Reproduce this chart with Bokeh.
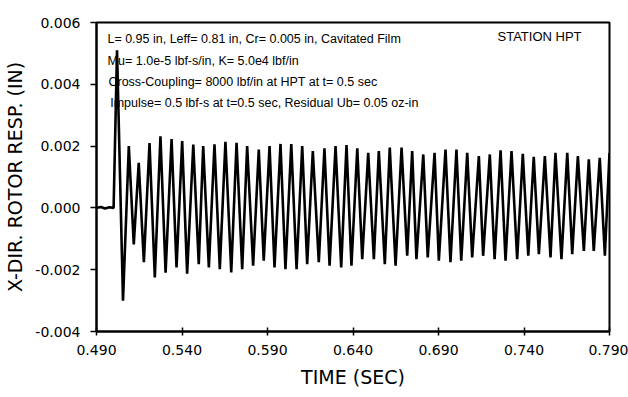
from bokeh.plotting import figure
from bokeh.models import FixedTicker, PrintfTickFormatter, Label, Range1d
from bokeh.embed import file_html
from bokeh.resources import INLINE

# ---------------- data ----------------
baseline_t = [0.4900, 0.4925, 0.4950, 0.4975, 0.5000]
baseline_v = [0.0, 0.00003, -0.00002, 0.00002, 0.0]

peak_t = [0.5020, 0.5089, 0.5147, 0.5210, 0.5274, 0.5339, 0.5401, 0.5466,
          0.5524, 0.5590, 0.5654, 0.5719, 0.5781, 0.5849, 0.5912, 0.5976,
          0.6039, 0.6103, 0.6165, 0.6233, 0.6298, 0.6362, 0.6425, 0.6489,
          0.6551, 0.6615, 0.6684, 0.6746, 0.6811, 0.6877, 0.6941, 0.7005,
          0.7068, 0.7136, 0.7200, 0.7263, 0.7327, 0.7393, 0.7457, 0.7522,
          0.7584, 0.7653, 0.7715, 0.7779, 0.7843, 0.7900]
peak_v = [0.0051, 0.0020, 0.00146, 0.0021, 0.00232, 0.00223, 0.00216, 0.00205,
          0.0020, 0.00206, 0.00214, 0.00211, 0.0020, 0.00189, 0.0020, 0.00207,
          0.00207, 0.0020, 0.00184, 0.00193, 0.0020, 0.00203, 0.00193, 0.00178,
          0.00184, 0.00195, 0.00195, 0.00184, 0.00173, 0.00178, 0.00189, 0.00189,
          0.00178, 0.00168, 0.00173, 0.00186, 0.00184, 0.00175, 0.00165, 0.00168,
          0.00178, 0.00178, 0.00168, 0.00157, 0.00162, 0.00178]

trough_t = [0.5055, 0.5118, 0.5177, 0.5241, 0.5304, 0.5368, 0.5430, 0.5498,
            0.5557, 0.5621, 0.5688, 0.5752, 0.5816, 0.5878, 0.5941, 0.6005,
            0.6070, 0.6132, 0.6200, 0.6263, 0.6331, 0.6391, 0.6454, 0.6522,
            0.6586, 0.6649, 0.6717, 0.6771, 0.6837, 0.6902, 0.6970, 0.7033,
            0.7097, 0.7161, 0.7228, 0.7292, 0.7360, 0.7425, 0.7487, 0.7555,
            0.7619, 0.7682, 0.7750, 0.7808, 0.7873]
trough_v = [-0.0030, -0.00118, -0.00176, -0.00225, -0.0021, -0.00193, -0.00213, -0.00182,
            -0.00193, -0.00198, -0.00209, -0.00198, -0.00187, -0.00171, -0.00193, -0.00198,
            -0.00198, -0.00182, -0.00176, -0.00187, -0.00193, -0.00187, -0.00166, -0.00166,
            -0.00182, -0.00187, -0.00155, -0.00166, -0.0016, -0.00171, -0.00176, -0.00171,
            -0.0016, -0.00155, -0.00166, -0.00171, -0.00166, -0.00155, -0.0015, -0.0016,
            -0.00166, -0.0015, -0.00139, -0.00139, -0.00155]

x_ticks = [0.490, 0.540, 0.590, 0.640, 0.690, 0.740, 0.790]
y_ticks = [-0.004, -0.002, 0.000, 0.002, 0.004, 0.006]

info_lines = [
    "L= 0.95 in, Leff= 0.81 in, Cr= 0.005 in, Cavitated Film",
    "Mu= 1.0e-5 lbf-s/in, K= 5.0e4 lbf/in",
    "Cross-Coupling= 8000 lbf/in at HPT at t= 0.5 sec",
    "Impulse= 0.5 lbf-s at t=0.5 sec, Residual Ub= 0.05 oz-in",
]
station_text = "STATION HPT"
x_title = "TIME (SEC)"
y_title = "X-DIR. ROTOR RESP. (IN)"

# ---------------- build the trace ----------------
pts = list(zip(baseline_t, baseline_v)) + list(zip(peak_t, peak_v)) + list(zip(trough_t, trough_v))
pts.sort(key=lambda a: a[0])
ts = [a[0] for a in pts]
vs = [a[1] for a in pts]

FONT = "DejaVu Sans"
NOTE_FONT = "Liberation Sans"

p = figure(width=628, height=397, output_backend="svg", toolbar_location=None,
           x_range=Range1d(0.49, 0.79), y_range=Range1d(-0.004, 0.006),
           min_border_left=96, min_border_right=19, min_border_top=22,
           min_border_bottom=66)
p.background_fill_color = "white"
p.border_fill_color = "white"
p.outline_line_color = "black"
p.outline_line_width = 2
p.xgrid.visible = False
p.ygrid.visible = False

p.line(ts, vs, line_color="black", line_width=2.6)

for ax in (p.xaxis[0], p.yaxis[0]):
    ax.axis_line_color = "black"
    ax.axis_line_width = 2
    ax.major_tick_line_color = "black"
    ax.major_tick_line_width = 1.5
    ax.minor_tick_line_color = None
    ax.major_label_text_font = FONT
    ax.major_label_text_font_size = "14px"
    ax.major_label_text_color = "black"
    ax.axis_label_text_font = FONT
    ax.axis_label_text_font_size = "19px"
    ax.axis_label_text_font_style = "normal"
    ax.axis_label_text_color = "black"
    ax.formatter = PrintfTickFormatter(format="%.3f")

p.xaxis.ticker = FixedTicker(ticks=x_ticks)
p.yaxis.ticker = FixedTicker(ticks=y_ticks)
p.xaxis.axis_label = x_title
p.yaxis.axis_label = y_title
p.xaxis.major_tick_in = 4
p.xaxis.major_tick_out = 4
p.xaxis.major_label_standoff = 9
p.xaxis.axis_label_standoff = 8
p.yaxis.major_tick_in = 0
p.yaxis.major_tick_out = 6
p.yaxis.major_label_standoff = 10
p.yaxis.axis_label_standoff = 6

text_x = [0.4964, 0.4965, 0.4970, 0.4980]
text_y = [0.00545, 0.00474, 0.00406, 0.00341]
for tx, ty, s in zip(text_x, text_y, info_lines):
    p.add_layout(Label(x=tx, y=ty, text=s, text_font=NOTE_FONT, text_font_size="12.5px",
                       text_baseline="middle", text_color="black"))
p.add_layout(Label(x=0.7245, y=0.00555, text=station_text, text_font=NOTE_FONT,
                   text_font_size="13px", text_baseline="middle", text_color="black"))

open("out.html", "w").write(file_html(p, INLINE))
